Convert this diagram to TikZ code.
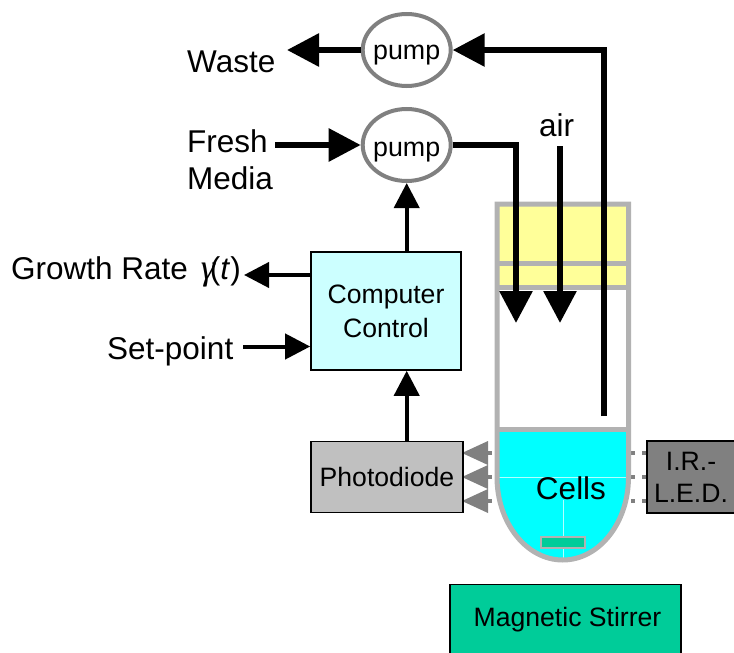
\documentclass[tikz,border=0pt]{standalone}
\usepackage{fontspec}
\setmainfont{Liberation Sans}
\newfontfamily\gammafont{Liberation Serif}
\usetikzlibrary{arrows.meta,shapes.geometric}
\definecolor{vialgray}{HTML}{B2B2B2}
\definecolor{pumpgray}{HTML}{808080}
\definecolor{ctrlcyan}{HTML}{CCFFFF}
\definecolor{photogray}{HTML}{C0C0C0}
\definecolor{stirgreen}{HTML}{00CC99}
\definecolor{capyellow}{HTML}{FFFF99}
\definecolor{liquid}{HTML}{00FFFF}
\newcommand{\pumptext}[1]{\smash{\makebox[0pt][c]{\raisebox{#1}{pump}}}}
\tikzset{
  txtbig/.style={font=\fontsize{31.5}{37}\selectfont,inner sep=0pt,anchor=base west},
  txtsmall/.style={font=\fontsize{26.6}{32}\selectfont,align=center,inner sep=0pt},
  box/.style={draw=black,line width=1.6pt,inner sep=0pt,txtsmall},
  pumpnode/.style={ellipse,draw=pumpgray,line width=4pt,fill=white,minimum width=88pt,minimum height=72pt,inner sep=0pt,font=\fontsize{26.8}{32}\selectfont},
  tube/.style={line width=6pt,-{Triangle[length=32pt,width=32pt]}},
  ctrlarrow/.style={line width=4pt,-{Triangle[length=25pt,width=25pt]}},
  sidearrow/.style={line width=4pt,-{Triangle[length=25pt,width=25pt]}},
  ray/.style={draw=pumpgray,line width=4pt,dash pattern=on 4pt off 7pt},
  vialline/.style={draw=vialgray,line width=5pt},
  tri/.style={fill=pumpgray,draw=none}
}
\begin{document}
\begin{tikzpicture}[x=1pt,y=-1pt]
\useasboundingbox (0,0) rectangle (734,653);
% rays
\coordinate (r1a) at (488,453); \coordinate (r1b) at (647,453);
\coordinate (r2a) at (488,477); \coordinate (r2b) at (647,477);
\coordinate (r3a) at (488,501); \coordinate (r3b) at (647,501);
\draw[ray] (r1a) -- (r1b);
\draw[ray] (r2a) -- (r2b);
\draw[ray] (r3a) -- (r3b);
% triangles
\fill[tri] (462,453) -- (488,441) -- (488,465) -- cycle;
\fill[tri] (462,477) -- (488,465) -- (488,489) -- cycle;
\fill[tri] (462,501) -- (488,489) -- (488,513) -- cycle;
% vial
\fill[capyellow] (497,204) rectangle (628.5,287.5);
\fill[white] (497,287.5) rectangle (628.5,429.5);
\fill[liquid] (497,429.5) -- (497,477) arc[start angle=180,end angle=360,x radius=65.75pt,y radius=83pt] -- (628.5,429.5) -- cycle;
\draw[line width=0.5pt,white!70!liquid] (497,477) -- (628.5,477);
\draw[line width=0.5pt,white!70!liquid] (563,500) -- (563,560);
\draw[vialline] (497,477) -- (497,204) -- (628.5,204) -- (628.5,477) arc[start angle=0,end angle=180,x radius=65.75pt,y radius=-83pt];
\draw[vialline] (497,263.5) -- (628.5,263.5);
\draw[vialline] (497,287.5) -- (628.5,287.5);
\draw[vialline] (497,429.5) -- (628.5,429.5);
\fill[stirgreen,draw=vialgray,line width=1.5pt] (541,537) rectangle (585,548);
% boxes
\node[box,fill=ctrlcyan,minimum width=150pt,minimum height=118pt] (ctrl) at (386,311) {Computer\\[2pt]Control};
\node[box,fill=photogray,minimum width=152pt,minimum height=71pt] (photo) at (387,477) {Photodiode};
\node[box,fill=pumpgray,minimum width=88pt,minimum height=72pt] (led) at (691,477) {I.R.-\\L.E.D.};
\node[box,fill=stirgreen,minimum width=231pt,minimum height=70.5pt] (stirrer) at (565.5,619.75) {\kern4pt\raisebox{1.5pt}{Magnetic Stirrer}};
\node[pumpnode] (pumpA) at (406.7,50) {\pumptext{-9.3pt}};
\node[pumpnode] (pumpB) at (406.7,145) {\pumptext{-11.7pt}};
% labels
\node[txtbig] (waste) at (187,72) {Waste};
\node[txtbig] (fresh) at (187,152) {Fresh};
\node[txtbig] (media) at (187,189) {Media};
\node[txtbig] (growth) at (11,279) {Growth Rate \kern4pt{\gammafont\fontsize{36}{37}\selectfont\itshape γ}\kern-5pt(\textit{t})};
\node[txtbig] (setp) at (107,359) {Set-point};
\node[txtbig] (air) at (539,136) {air};
\node[txtbig,anchor=base] (cells) at (571,499) {Cells};
% connectors
\coordinate (wasteTip) at (287,50);
\coordinate (freshStart) at (275,145);
\coordinate (t1c) at (516,145); \coordinate (t1e) at (516,323);
\coordinate (t2s) at (560,146); \coordinate (t2e) at (560,323);
\coordinate (t3s) at (604,416); \coordinate (t3c) at (604,50);
\coordinate (growthTip) at (244,275);
\coordinate (setStart) at (243,346.5);
\draw[tube] (pumpA.west) -- (wasteTip);
\draw[tube] (freshStart) -- (pumpB.west);
\draw[tube] (t3s) -- (t3c) -- (pumpA.east);
\draw[tube] (pumpB.east) -- (t1c) -- (t1e);
\draw[tube] (t2s) -- (t2e);
\draw[ctrlarrow] (ctrl.north -| pumpB.south) -- (pumpB.south);
\draw[ctrlarrow] (photo.north -| pumpB.south) -- (ctrl.south -| pumpB.south);
\draw[sidearrow] (ctrl.west |- growthTip) -- (growthTip);
\draw[sidearrow] (setStart) -- (ctrl.west |- setStart);
\end{tikzpicture}
\end{document}
